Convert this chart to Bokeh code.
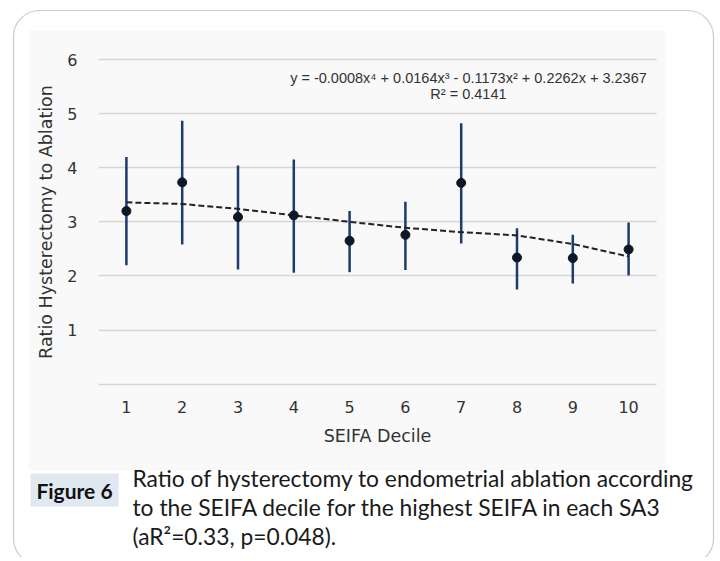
from bokeh.plotting import figure
from bokeh.models import Label, BoxAnnotation, FixedTicker, Range1d
from bokeh.embed import file_html
from bokeh.resources import INLINE

# ---- data ----
deciles = [1, 2, 3, 4, 5, 6, 7, 8, 9, 10]
ratio = [3.20, 3.73, 3.09, 3.12, 2.65, 2.76, 3.72, 2.34, 2.33, 2.49]
upper = [4.20, 4.87, 4.04, 4.15, 3.20, 3.37, 4.82, 2.88, 2.76, 2.99]
lower = [2.20, 2.58, 2.12, 2.06, 2.07, 2.11, 2.60, 1.75, 1.86, 2.01]
trend = [3.36, 3.33, 3.24, 3.12, 3.00, 2.89, 2.81, 2.75, 2.59, 2.36]
y_ticks = [0, 1, 2, 3, 4, 5, 6]
x_ticks = deciles

equation = "y = -0.0008x\u2074 + 0.0164x\u00b3 - 0.1173x\u00b2 + 0.2262x + 3.2367"
r2_text = "R\u00b2 = 0.4141"
caption = [
    "Ratio of hysterectomy to endometrial ablation according",
    "to the SEIFA decile for the highest SEIFA in each SA3",
    "(aR\u00b2=0.33, p=0.048).",
]

# ---- layout (pixels on the canvas) ----
W, H = 716, 557
PLOT_L, PLOT_R, PLOT_T, PLOT_B = 98.0, 656.0, 59.0, 383.7
X0, X1, Y0, Y1 = 0.5, 10.5, 0.0, 6.0
sx = (PLOT_R - PLOT_L) / (X1 - X0)
sy = (PLOT_B - PLOT_T) / (Y1 - Y0)
x_range = Range1d(X0 - PLOT_L / sx, X1 + (W - PLOT_R) / sx)
y_range = Range1d(Y0 - (H - PLOT_B) / sy, Y1 + PLOT_T / sy)

FONT = "DejaVu Sans"
CAP_FONT = "Lato"

p = figure(width=W, height=H, output_backend="svg", toolbar_location=None,
           x_range=x_range, y_range=y_range,
           min_border_left=0, min_border_right=0, min_border_top=0,
           min_border_bottom=0)
p.background_fill_color = "white"
p.border_fill_color = "white"
p.outline_line_color = None

def canvas_box(left, right, top, bottom, **kw):
    return BoxAnnotation(left=left, right=right, top=top, bottom=bottom,
                         left_units="canvas", right_units="canvas",
                         top_units="canvas", bottom_units="canvas",
                         level="image", **kw)

# light panel behind the chart
p.add_layout(canvas_box(28, 665, 30, 470, fill_color="#f9f9f9", fill_alpha=1.0,
                        line_color=None))
# rounded outer frame
p.add_layout(canvas_box(13, 713, 10, 564, fill_alpha=0, line_color="#3d5a80",
                        line_width=1.2, border_radius=26))
# Figure 6 tag background
p.add_layout(canvas_box(30, 118, 473, 506, fill_color="#e0e8f2", fill_alpha=1.0,
                        line_color=None))

# axes (placed at the chart's own origin)
p.xaxis.fixed_location = Y0
p.yaxis.fixed_location = X0
p.xaxis.bounds = (X0, X1)
p.yaxis.bounds = (Y0, Y1)
p.xaxis.ticker = FixedTicker(ticks=x_ticks)
p.yaxis.ticker = FixedTicker(ticks=y_ticks)
p.yaxis.major_label_overrides = {0: ""}
for ax in (p.xaxis, p.yaxis):
    ax.axis_line_color = None
    ax.major_tick_line_color = None
    ax.minor_tick_line_color = None
    ax.major_label_text_font = FONT
    ax.major_label_text_font_size = "16px"
    ax.major_label_text_color = "#333333"
    ax.axis_label_text_font = FONT
    ax.axis_label_text_font_size = "17.5px"
    ax.axis_label_text_font_style = "normal"
    ax.axis_label_text_color = "#333333"
p.xaxis.axis_label = "SEIFA Decile"
p.yaxis.axis_label = "Ratio Hysterectomy to Ablation"
p.xaxis.major_label_standoff = 11
p.xaxis.axis_label_standoff = 9
p.yaxis.major_label_standoff = 15
p.yaxis.axis_label_standoff = 8

p.xgrid.grid_line_color = None
p.ygrid.grid_line_color = "#d6d6d6"
p.ygrid.grid_line_width = 1.5
p.ygrid.cross_bounds = (X0, X1)

# error bars, points, trend
p.segment(x0=deciles, y0=lower, x1=deciles, y1=upper, line_color="#1e3a6e", line_width=2.5)
p.line(deciles, trend, line_color="#222222", line_width=2, line_dash="6 3")
p.scatter(deciles, ratio, size=9, fill_color="#0e1726", line_color="#0e1726")

# equation labels
p.add_layout(Label(x=7.13, y=5.65, text=equation, text_align="center", text_baseline="middle",
                   text_font="Liberation Sans", text_font_size="14.5px", text_color="#333333"))
p.add_layout(Label(x=7.13, y=5.36, text=r2_text, text_align="center", text_baseline="middle",
                   text_font="Liberation Sans", text_font_size="14.5px", text_color="#333333"))

# caption
p.add_layout(Label(x=74, y=490, x_units="canvas", y_units="canvas", text="Figure 6",
                   text_align="center", text_baseline="middle", text_font=CAP_FONT,
                   text_font_size="21px", text_font_style="bold", text_color="#111111"))
for i, line in enumerate(caption):
    p.add_layout(Label(x=132, y=477 + 29 * i, x_units="canvas", y_units="canvas",
                       text=line, text_align="left", text_baseline="middle",
                       text_font=CAP_FONT, text_font_size="22.8px", text_color="#1a1a1a"))

open("out.html", "w").write(file_html(p, INLINE))
